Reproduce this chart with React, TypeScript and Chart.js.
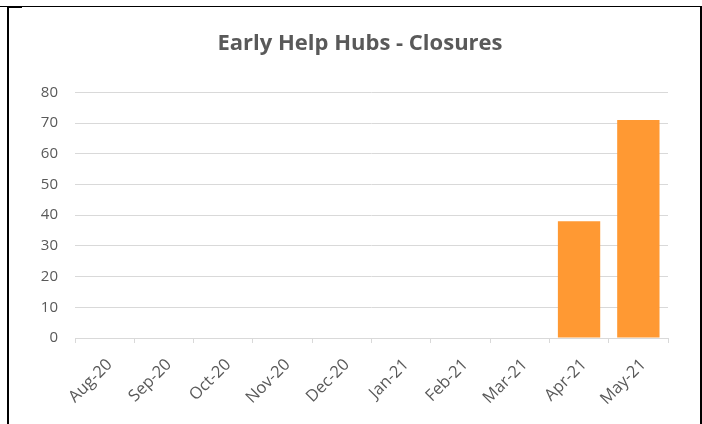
import React, { useEffect, useRef } from "react";
import { Chart, registerables } from "chart.js";

Chart.register(...registerables);

const categories = ["Aug-20", "Sep-20", "Oct-20", "Nov-20", "Dec-20", "Jan-21", "Feb-21", "Mar-21", "Apr-21", "May-21"];
const closures = [0, 0, 0, 0, 0, 0, 0, 0, 38, 71];
const yMin = 0;
const yMax = 80;
const yStep = 10;
const titleText = "Early Help Hubs - Closures";

const FONT = "'Open Sans', 'Noto Sans', sans-serif";
const GREY = "#595959";

// Shift the title's centring box so it is centred like the original (Excel centres over the whole chart).
const titleBoxPlugin = {
  id: "titleBox",
  afterLayout(chart: any) {
    const t = chart.titleBlock;
    if (t) {
      t.left = 52;
      t.right = chart.chartArea.right;
    }
  },
};

export default function App() {
  const ref = useRef<HTMLCanvasElement | null>(null);

  useEffect(() => {
    document.body.style.margin = "0";
    const ctx = ref.current;
    if (!ctx) return;
    const chart = new Chart(ctx, {
      type: "bar",
      data: {
        labels: categories,
        datasets: [
          {
            label: "Closures",
            data: closures,
            backgroundColor: "#FF9933",
            categoryPercentage: 1,
            barPercentage: 0.714,
          },
        ],
      },
      plugins: [titleBoxPlugin],
      options: {
        animation: false,
        responsive: false,
        maintainAspectRatio: false,
        layout: { padding: { left: 20, right: 34, top: 0, bottom: 0 } },
        plugins: {
          legend: { display: false },
          tooltip: { enabled: false },
          title: {
            display: true,
            text: titleText,
            color: GREY,
            font: { family: FONT, size: 22, weight: "bold" },
            padding: { top: 31, bottom: 35 },
          },
        },
        scales: {
          x: {
            grid: {
              offset: true,
              drawOnChartArea: false,
              drawTicks: true,
              tickLength: 5,
              color: "#D9D9D9",
            },
            border: { display: true, color: "#D9D9D9", width: 1 },
            ticks: {
              color: GREY,
              font: { family: FONT, size: 16.5 },
              maxRotation: 45,
              minRotation: 45,
              padding: 12,
              labelOffset: 5,
              autoSkip: false,
            },
            afterFit: (scale: any) => {
              scale.height = 86;
            },
          },
          y: {
            min: yMin,
            max: yMax,
            grid: { color: "#D9D9D9", drawTicks: false },
            border: { display: false },
            ticks: {
              stepSize: yStep,
              color: GREY,
              font: { family: FONT, size: 15 },
              padding: 17,
            },
            afterFit: (scale: any) => {
              scale.width = 55;
            },
          },
        },
      },
    });
    return () => chart.destroy();
  }, []);

  return (
    <div style={{ position: "relative", width: 702, height: 424, background: "#fff", overflow: "hidden" }}>
      <canvas ref={ref} width={702} height={424} style={{ position: "absolute", left: 0, top: 0 }} />
      <div style={{ position: "absolute", left: 0, top: 6, width: 702, height: 1, background: "#000" }} />
      <div style={{ position: "absolute", left: 7, top: 6, width: 15, height: 2, background: "#000" }} />
      <div style={{ position: "absolute", left: 7, top: 6, width: 2, height: 418, background: "#000" }} />
      <div style={{ position: "absolute", left: 700, top: 6, width: 2, height: 418, background: "#000" }} />
    </div>
  );
}
